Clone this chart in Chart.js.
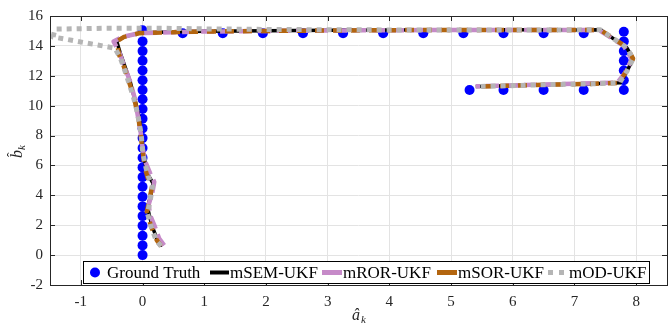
<!DOCTYPE html>
<html>
<head>
<meta charset="utf-8">
<script src="https://cdn.jsdelivr.net/npm/chart.js@4.4.0/dist/chart.umd.min.js"></script>
<style>
  html, body { margin: 0; padding: 0; background: #fff; }
  canvas { display: block; }
</style>
</head>
<body>
<canvas id="chart" width="672" height="324"></canvas>
<script>
// ground truth positions
const gtX = [0, 0, 0, 0, 0, 0, 0, 0, 0, 0, 0, 0, 0, 0, 0, 0, 0, 0, 0, 0, 0, 0, 0, 0,
  0.65, 1.3, 1.95, 2.6, 3.25, 3.9, 4.55, 5.2, 5.85, 6.5, 7.15,
  7.8, 7.8, 7.8, 7.8, 7.8, 7.8, 7.8,
  7.15, 6.5, 5.85, 5.3];
const gtY = [0, 0.65, 1.3, 1.96, 2.61, 3.26, 3.91, 4.57, 5.22, 5.87, 6.52, 7.17, 7.83, 8.48, 9.13, 9.78, 10.43, 11.05, 11.7, 12.35, 13.0, 13.65, 14.3, 15.05,
  14.85, 14.85, 14.85, 14.85, 14.85, 14.85, 14.85, 14.85, 14.85, 14.85, 14.85,
  14.95, 14.3, 13.65, 13.0, 12.35, 11.7, 11.05,
  11.05, 11.05, 11.05, 11.05];

// mSEM-UKF estimate
const semX = [0.32, 0.24, 0.15, 0.08, 0.14, 0.17, 0.1, 0.05, 0.0, -0.02, -0.05, -0.08, -0.13, -0.2, -0.3, -0.36, -0.42, -0.3, -0.05, 0.5, 1.0, 2.0, 3.0, 4.0, 5.0, 6.0, 7.0, 7.42, 7.85, 7.95, 7.85, 7.74, 7.3, 6.5, 5.9, 5.4];
const semY = [0.6, 1.0, 2.0, 3.2, 4.1, 4.8, 5.3, 6.0, 7.0, 8.1, 9.0, 9.7, 10.5, 11.6, 12.8, 13.5, 14.33, 14.6, 14.87, 14.95, 14.98, 15.02, 15.04, 15.06, 15.08, 15.08, 15.07, 15.08, 13.87, 13.13, 12.3, 11.53, 11.46, 11.4, 11.33, 11.28];

// mROR-UKF estimate
const rorX = [0.35, 0.27, 0.2, 0.12, 0.1, 0.16, 0.19, 0.12, 0.04, 0.0, -0.03, -0.08, -0.12, -0.2, -0.3, -0.38, -0.47, -0.33, -0.05, 0.5, 1.0, 2.0, 3.0, 4.0, 5.0, 6.0, 7.0, 7.4, 7.8, 7.93, 7.82, 7.7, 7.3, 6.5, 5.9, 5.4];
const rorY = [0.65, 1.1, 1.9, 2.7, 3.4, 4.2, 4.9, 5.5, 6.3, 7.2, 8.2, 9.4, 10.4, 11.6, 12.7, 13.6, 14.3, 14.6, 14.85, 14.92, 14.96, 15.0, 15.03, 15.05, 15.06, 15.06, 15.06, 15.06, 14.0, 13.1, 12.2, 11.55, 11.5, 11.42, 11.35, 11.3];

// mSOR-UKF estimate
const sorX = [0.3, 0.23, 0.14, 0.07, 0.12, 0.16, 0.08, 0.03, 0.0, -0.03, -0.06, -0.1, -0.14, -0.22, -0.31, -0.38, -0.42, -0.3, -0.05, 0.5, 1.0, 2.0, 3.0, 4.0, 5.0, 6.0, 7.0, 7.42, 7.85, 7.95, 7.84, 7.72, 7.3, 6.5, 5.9, 5.4];
const sorY = [0.6, 1.0, 1.9, 2.9, 3.9, 4.7, 5.2, 6.0, 7.0, 8.0, 9.0, 9.8, 10.6, 11.6, 12.7, 13.4, 14.3, 14.6, 14.85, 14.92, 14.96, 15.0, 15.03, 15.05, 15.07, 15.07, 15.07, 15.07, 13.9, 13.15, 12.3, 11.53, 11.46, 11.4, 11.33, 11.28];

// mOD-UKF estimate
const odX = [0.3, 0.22, 0.14, 0.08, 0.13, 0.16, 0.09, 0.04, 0.0, -0.02, -0.06, -0.1, -0.15, -0.22, -0.3, -0.36, -0.45, -1.45, -1.42, -0.6, 0.3, 1.0, 2.0, 3.0, 4.0, 5.0, 6.0, 7.0, 7.42, 7.85, 7.95, 7.85, 7.73, 7.3, 6.5, 5.9, 5.4];
const odY = [0.6, 1.0, 1.9, 2.8, 3.8, 4.6, 5.3, 6.1, 7.0, 8.0, 9.0, 9.8, 10.6, 11.5, 12.5, 13.2, 13.85, 14.6, 15.12, 15.18, 15.18, 15.14, 15.1, 15.08, 15.07, 15.07, 15.07, 15.07, 15.08, 13.88, 13.13, 12.3, 11.53, 11.46, 11.4, 11.33, 11.28];

const xTicks = [-1, 0, 1, 2, 3, 4, 5, 6, 7, 8];
const yTicks = [-2, 0, 2, 4, 6, 8, 10, 12, 14, 16];
const seriesNames = ['Ground Truth', 'mSEM-UKF', 'mROR-UKF', 'mSOR-UKF', 'mOD-UKF'];

const pts = (xs, ys) => xs.map((x, i) => ({ x: x, y: ys[i] }));
const SERIF = '"Liberation Serif", "DejaVu Serif", serif';

const boxPlugin = {
  id: 'matlabBox',
  afterDatasetsDraw(chart) {
    const ctx = chart.ctx;
    const a = chart.chartArea;
    const xs = chart.scales.x, ys = chart.scales.y;
    ctx.save();
    // inward ticks
    ctx.strokeStyle = '#262626';
    ctx.lineWidth = 1;
    ctx.beginPath();
    xTicks.forEach(v => {
      const px = Math.round(xs.getPixelForValue(v)) + 0.5;
      ctx.moveTo(px, a.bottom); ctx.lineTo(px, a.bottom - 5);
      ctx.moveTo(px, a.top); ctx.lineTo(px, a.top + 5);
    });
    yTicks.forEach(v => {
      const py = Math.round(ys.getPixelForValue(v)) + 0.5;
      ctx.moveTo(a.left, py); ctx.lineTo(a.left + 5, py);
      ctx.moveTo(a.right, py); ctx.lineTo(a.right - 5, py);
    });
    ctx.stroke();
    ctx.strokeRect(Math.round(a.left) + 0.5, Math.round(a.top) + 0.5,
      Math.round(a.right - a.left), Math.round(a.bottom - a.top));

    // legend box
    const lx = 83, ly = 261, lw = 566, lh = 22;
    ctx.fillStyle = '#fff';
    ctx.fillRect(lx, ly, lw, lh);
    ctx.strokeStyle = '#000';
    ctx.strokeRect(lx + 0.5, ly + 0.5, lw, lh);
    const cy = ly + lh / 2 + 0.5;
    const ds = chart.data.datasets;
    // ground truth marker
    ctx.fillStyle = ds[0].backgroundColor;
    ctx.beginPath();
    ctx.arc(95, cy, 5, 0, Math.PI * 2);
    ctx.fill();
    const items = [
      { text: 107 },
      { l0: 210, l1: 229, text: 230 },
      { l0: 322, l1: 342, text: 343 },
      { l0: 437, l1: 457, text: 458 },
      { l0: 548, l1: 564, text: 569 }
    ];
    items.forEach((it, i) => {
      if (i > 0) {
        const d = ds[i];
        ctx.strokeStyle = d.borderColor;
        ctx.lineWidth = i === 1 ? 4 : 5;
        ctx.setLineDash(i === 4 ? [5, 6] : []);
        ctx.beginPath();
        ctx.moveTo(it.l0, cy); ctx.lineTo(it.l1, cy);
        ctx.stroke();
        ctx.setLineDash([]);
      }
      ctx.fillStyle = '#000';
      ctx.font = '17px ' + SERIF;
      ctx.textBaseline = 'middle';
      ctx.textAlign = 'left';
      ctx.fillText(seriesNames[i], it.text, cy + 1);
    });

    // axis titles
    ctx.fillStyle = '#262626';
    ctx.font = 'italic 16px ' + SERIF;
    ctx.textBaseline = 'alphabetic';
    ctx.fillText('\u00e2', 352, 320);
    ctx.font = 'italic 11px ' + SERIF;
    ctx.fillText('k', 361, 323);
    ctx.translate(22, 150);
    ctx.rotate(-Math.PI / 2);
    ctx.font = 'italic 16px ' + SERIF;
    ctx.fillText('b', -8, 0);
    ctx.font = '14px ' + SERIF;
    ctx.fillText('\u02c6', -7, -5);
    ctx.font = 'italic 11px ' + SERIF;
    ctx.fillText('k', 0, 3);
    ctx.restore();
  }
};

const lineSet = (label, xs, ys, color, width, dash, order) => ({
  label: label,
  data: pts(xs, ys),
  showLine: true,
  borderColor: color,
  backgroundColor: color,
  borderWidth: width,
  borderDash: dash,
  borderCapStyle: 'butt',
  borderJoinStyle: 'round',
  pointRadius: 0,
  tension: 0,
  order: order
});

new Chart(document.getElementById('chart'), {
  type: 'scatter',
  data: {
    datasets: [
      {
        label: seriesNames[0],
        data: pts(gtX, gtY),
        backgroundColor: '#0000ff',
        borderColor: '#0000ff',
        pointRadius: 5,
        pointBorderWidth: 0,
        showLine: false,
        order: 4
      },
      lineSet(seriesNames[1], semX, semY, '#000000', 3.5, [], 3),
      lineSet(seriesNames[2], rorX, rorY, '#c68ac8', 4.5, [13, 6], 2),
      lineSet(seriesNames[3], sorX, sorY, '#b3650f', 4.5, [9, 9], 1),
      lineSet(seriesNames[4], odX, odY, '#b5b5b5', 5, [5, 5], 0)
    ]
  },
  options: {
    responsive: false,
    devicePixelRatio: 1,
    animation: false,
    layout: { padding: { top: 15, right: 2, left: 0, bottom: 0 } },
    plugins: { legend: { display: false }, tooltip: { enabled: false } },
    scales: {
      x: {
        type: 'linear',
        min: -1.5,
        max: 8.5,
        afterBuildTicks: s => { s.ticks = xTicks.map(v => ({ value: v })); },
        afterFit: s => { s.height = 39; },
        grid: { color: '#e3e3e3', lineWidth: 1, drawTicks: false },
        border: { display: false },
        ticks: { font: { family: SERIF, size: 15 }, color: '#262626', padding: 8 }
      },
      y: {
        type: 'linear',
        min: -2,
        max: 16,
        afterBuildTicks: s => { s.ticks = yTicks.map(v => ({ value: v })); },
        afterFit: s => { s.width = 50; },
        grid: { color: '#e3e3e3', lineWidth: 1, drawTicks: false },
        border: { display: false },
        ticks: { font: { family: SERIF, size: 15 }, color: '#262626', padding: 7 }
      }
    }
  },
  plugins: [boxPlugin]
});
</script>
</body>
</html>
